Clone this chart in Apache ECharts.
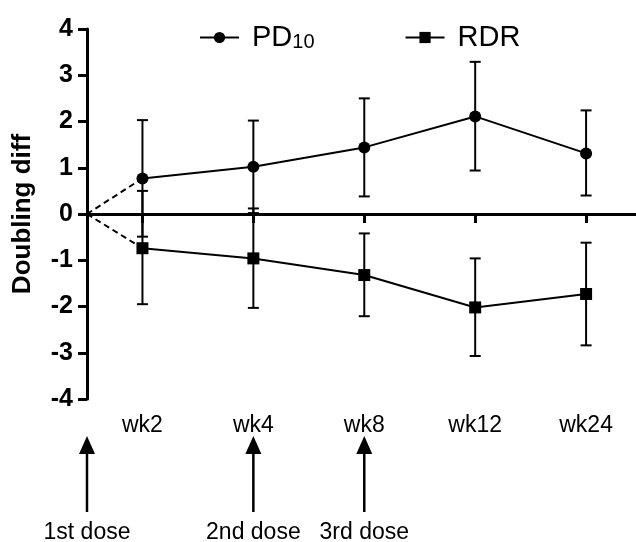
<!DOCTYPE html>
<html>
<head>
<meta charset="utf-8">
<script src="https://cdn.jsdelivr.net/npm/echarts@6/dist/echarts.min.js"></script>
<style>
    html, body { margin: 0; padding: 0; background: #fff; }
    #chart { width: 636px; height: 542px; }
</style>
</head>
<body>
<div id="chart"></div>
<script>
// 横轴位置（周次）与标签
var xPos = [1, 3, 5, 7, 9]
var weekLabels = ['wk2', 'wk4', 'wk8', 'wk12', 'wk24']

// PD10 均值及误差范围
var pd10Mean = [0.77, 1.02, 1.44, 2.11, 1.31]
var pd10Low = [-0.49, 0.02, 0.38, 0.94, 0.40]
var pd10High = [2.03, 2.02, 2.50, 3.29, 2.24]

// RDR 均值及误差范围
var rdrMean = [-0.74, -0.96, -1.32, -2.02, -1.73]
var rdrLow = [-1.95, -2.03, -2.21, -3.07, -2.84]
var rdrHigh = [0.50, 0.12, -0.42, -0.96, -0.62]

// 给药时间点
var doseX = [0, 3, 5]
var doseLabels = ['1st dose', '2nd dose', '3rd dose']

// y 轴刻度
var yTicks = [-4, -3, -2, -1, 0, 1, 2, 3, 4]

var FONT = '"Liberation Sans", Arial, sans-serif'

function renderErrorBar(params, api) {
    var x = api.value(0)
    var lo = api.coord([x, api.value(1)])
    var hi = api.coord([x, api.value(2)])
    var half = 5.5
    var style = { stroke: '#000', lineWidth: 2 }
    return {
        type: 'group',
        children: [
            { type: 'line', shape: { x1: lo[0], y1: lo[1], x2: hi[0], y2: hi[1] }, style: style },
            { type: 'line', shape: { x1: lo[0] - half, y1: lo[1], x2: lo[0] + half, y2: lo[1] }, style: style },
            { type: 'line', shape: { x1: hi[0] - half, y1: hi[1], x2: hi[0] + half, y2: hi[1] }, style: style },
        ],
    }
}

function renderArrow(params, api) {
    var x = api.value(0)
    var tail = api.coord([x, api.value(1)])
    var tip = api.coord([x, api.value(2)])
    var headH = 18,
        headW = 8
    return {
        type: 'group',
        children: [
            {
                type: 'line',
                shape: { x1: tail[0], y1: tail[1], x2: tip[0], y2: tip[1] + headH },
                style: { stroke: '#000', lineWidth: 2.5 },
            },
            {
                type: 'polygon',
                shape: { points: [[tip[0], tip[1]], [tip[0] - headW, tip[1] + headH], [tip[0] + headW, tip[1] + headH]] },
                style: { fill: '#000' },
            },
        ],
    }
}

var chart = echarts.init(document.getElementById('chart'))
var option = {
    animation: false,
    backgroundColor: '#fff',
    legend: {
        data: ['PD10', 'RDR'],
        left: 194,
        top: 18,
        itemWidth: 39,
        itemHeight: 14,
        itemGap: 90,
        formatter: function(name) {
            return name === 'PD10' ? '{a|PD}{b|10}' : '{a|RDR}'
        },
        textStyle: {
            padding: [0, 0, 0, 8],
            rich: {
                a: { fontFamily: FONT, fontSize: 29, color: '#000' },
                b: { fontFamily: FONT, fontSize: 20, color: '#000', padding: [10, 0, 0, 0] },
            },
        },
    },
    grid: [
        { left: 87, right: 0, top: 29, height: 370, outerBoundsMode: 'none' },
        { left: 87, right: 0, top: 436, height: 76, outerBoundsMode: 'none' },
    ],
    xAxis: [
        {
            type: 'value',
            gridIndex: 0,
            min: 0,
            max: 9.9,
            axisLine: { onZero: true, lineStyle: { color: '#000', width: 3 } },
            axisTick: { show: true, customValues: xPos, length: 9, lineStyle: { color: '#000', width: 3 } },
            axisLabel: { show: false },
            splitLine: { show: false },
        },
        {
            type: 'value',
            gridIndex: 1,
            min: 0,
            max: 9.9,
            position: 'bottom',
            axisLine: { show: false },
            axisTick: { show: false },
            splitLine: { show: false },
            axisLabel: {
                customValues: doseX,
                margin: 9,
                fontFamily: FONT,
                fontSize: 23,
                color: '#000',
                formatter: function(v) {
                    return doseLabels[doseX.indexOf(v)]
                },
            },
        },
        {
            type: 'value',
            gridIndex: 0,
            min: 0,
            max: 9.9,
            position: 'bottom',
            axisLine: { show: false, onZero: false },
            axisTick: { show: false },
            splitLine: { show: false },
            axisLabel: {
                customValues: xPos,
                margin: 15,
                fontFamily: FONT,
                fontSize: 23,
                color: '#000',
                formatter: function(v) {
                    return weekLabels[xPos.indexOf(v)]
                },
            },
        },
    ],
    yAxis: [
        {
            type: 'value',
            gridIndex: 0,
            min: yTicks[0],
            max: yTicks[yTicks.length - 1],
            interval: 1,
            name: 'Doubling diff',
            nameLocation: 'middle',
            nameGap: 51,
            nameTextStyle: { fontFamily: FONT, fontSize: 26, fontWeight: 'bold', color: '#000' },
            axisLine: { show: true, onZero: false, lineStyle: { color: '#000', width: 3 } },
            axisTick: { show: true, length: 9, lineStyle: { color: '#000', width: 3 } },
            axisLabel: { margin: 14, fontFamily: FONT, fontSize: 25, fontWeight: 'bold', color: '#000' },
            splitLine: { show: false },
        },
        { type: 'value', gridIndex: 1, min: 0, max: 1, show: false },
    ],
    series: [
        {
            name: 'PD10',
            type: 'line',
            data: xPos.map(function(x, i) { return [x, pd10Mean[i]] }),
            symbol: 'circle',
            symbolSize: 12,
            itemStyle: { color: '#000' },
            lineStyle: { color: '#000', width: 2 },
            z: 5,
        },
        {
            name: 'RDR',
            type: 'line',
            data: xPos.map(function(x, i) { return [x, rdrMean[i]] }),
            symbol: 'rect',
            symbolSize: 12,
            itemStyle: { color: '#000' },
            lineStyle: { color: '#000', width: 2 },
            z: 5,
        },
        {
            name: 'PD10 start',
            type: 'line',
            data: [[0, 0], [xPos[0], pd10Mean[0]]],
            showSymbol: false,
            lineStyle: { color: '#000', width: 2, type: [6, 4] },
        },
        {
            name: 'RDR start',
            type: 'line',
            data: [[0, 0], [xPos[0], rdrMean[0]]],
            showSymbol: false,
            lineStyle: { color: '#000', width: 2, type: [6, 4] },
        },
        {
            name: 'PD10 err',
            type: 'custom',
            renderItem: renderErrorBar,
            encode: { x: 0, y: [1, 2] },
            data: xPos.map(function(x, i) { return [x, pd10Low[i], pd10High[i]] }),
        },
        {
            name: 'RDR err',
            type: 'custom',
            renderItem: renderErrorBar,
            encode: { x: 0, y: [1, 2] },
            data: xPos.map(function(x, i) { return [x, rdrLow[i], rdrHigh[i]] }),
        },
        {
            name: 'dose',
            type: 'custom',
            xAxisIndex: 1,
            yAxisIndex: 1,
            renderItem: renderArrow,
            encode: { x: 0, y: [1, 2] },
            data: doseX.map(function(x) { return [x, 0, 1] }),
        },
    ],
}
option && chart.setOption(option)
</script>
</body>
</html>
